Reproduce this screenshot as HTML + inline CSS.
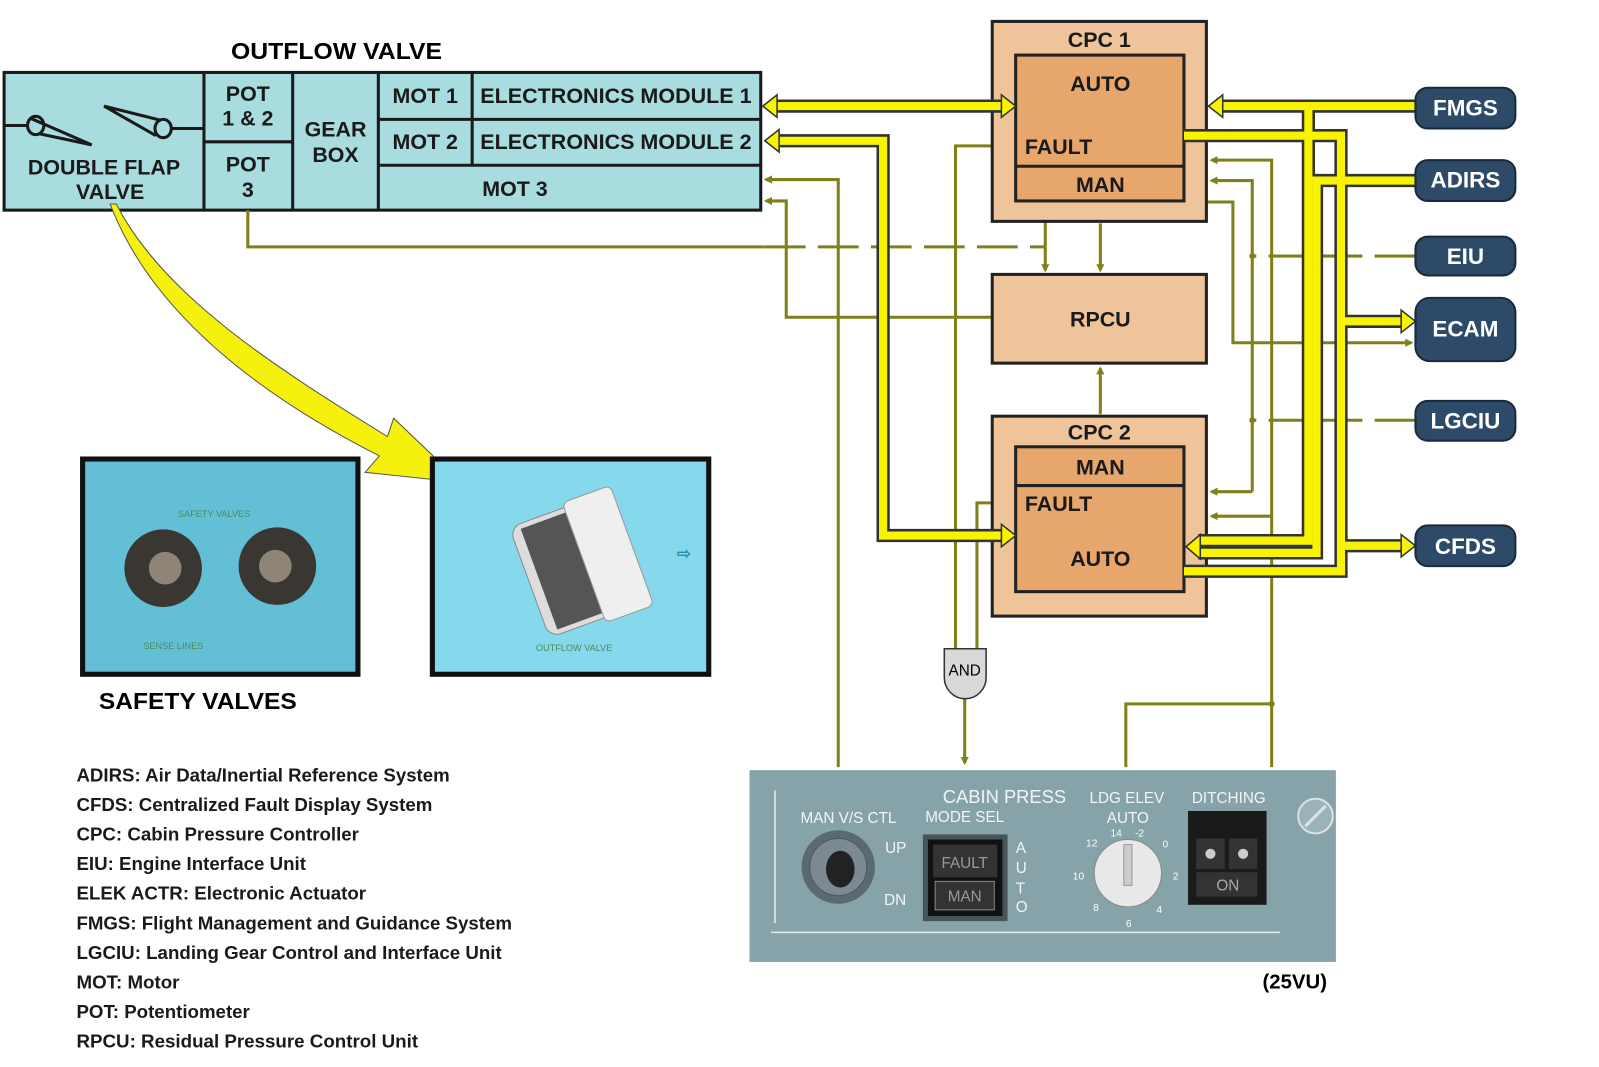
<!DOCTYPE html>
<html><head><meta charset="utf-8"><style>
html,body{margin:0;padding:0;background:#fff;width:1599px;height:1067px;overflow:hidden}
svg{display:block}
text{font-family:"Liberation Sans",Arial,sans-serif}
</style></head><body>
<svg width="1599" height="1067" viewBox="0 0 1568 1046" preserveAspectRatio="none">
<defs>
<marker id="oa" markerWidth="8" markerHeight="8" refX="6" refY="4" orient="auto" markerUnits="userSpaceOnUse"><path d="M0,0 L8,4 L0,8 Z" fill="#80801a"/></marker>
</defs>

<!-- Outflow valve -->
<text x="330" y="58" font-size="23" font-weight="bold" text-anchor="middle" textLength="207" lengthAdjust="spacingAndGlyphs">OUTFLOW VALVE</text>
<rect x="4" y="71" width="742" height="135" fill="#a8dcdf" stroke="#1a1a1a" stroke-width="3"/>
<g stroke="#1a1a1a" stroke-width="3">
<line x1="200" y1="71" x2="200" y2="206"/><line x1="287" y1="71" x2="287" y2="206"/>
<line x1="371" y1="71" x2="371" y2="206"/><line x1="463" y1="71" x2="463" y2="162"/>
<line x1="371" y1="117" x2="746" y2="117"/><line x1="371" y1="162" x2="746" y2="162"/>
<line x1="200" y1="139" x2="287" y2="139"/>
</g>
<g font-size="21" font-weight="bold" text-anchor="middle" fill="#1a1a1a">
<text x="243" y="99">POT</text><text x="243" y="123">1 &amp; 2</text>
<text x="243" y="168">POT</text><text x="243" y="193">3</text>
<text x="329" y="134">GEAR</text><text x="329" y="159">BOX</text>
<text x="417" y="101">MOT 1</text><text x="417" y="146">MOT 2</text>
<text x="604" y="101" textLength="266" lengthAdjust="spacingAndGlyphs">ELECTRONICS MODULE 1</text><text x="604" y="146" textLength="266" lengthAdjust="spacingAndGlyphs">ELECTRONICS MODULE 2</text>
<text x="505" y="192">MOT 3</text>
<text x="102" y="171">DOUBLE FLAP</text><text x="108" y="195">VALVE</text>
</g>
<g stroke="#1a1a1a" stroke-width="3" fill="none">
<line x1="5" y1="123" x2="28" y2="123"/>
<ellipse cx="35" cy="123" rx="8" ry="9"/>
<path d="M30,116 L90,142 M38,131 L90,142"/>
<line x1="168" y1="126" x2="199" y2="126"/>
<ellipse cx="160" cy="126" rx="8" ry="9"/>
<path d="M102,104 L158,118 M102,104 L153,133"/>
</g>

<!-- Big yellow arrow -->
<path d="M108,200 C150,310 260,390 372,447 L358,463 L452,473 L386,410 L380,428 C270,360 160,290 114,200 Z" fill="#f6f10c" stroke="#555" stroke-width="1"/>

<!-- photos -->
<rect x="81" y="450" width="270" height="211" fill="#62bfd6" stroke="#111" stroke-width="5"/>
<circle cx="160" cy="557" r="38" fill="#3a3632"/><circle cx="162" cy="557" r="16" fill="#8e8478"/>
<circle cx="272" cy="555" r="38" fill="#3a3632"/><circle cx="270" cy="555" r="16" fill="#8e8478"/>
<text x="210" y="507" font-size="9" fill="#4b8a5a" text-anchor="middle">SAFETY VALVES</text>
<text x="170" y="636" font-size="9" fill="#4b8a5a" text-anchor="middle">SENSE LINES</text>
<rect x="424" y="450" width="271" height="211" fill="#86d8ed" stroke="#111" stroke-width="5"/>
<g transform="rotate(-20 570 550)">
<rect x="515" y="495" width="100" height="115" rx="12" fill="#ddd" stroke="#888"/>
<rect x="525" y="500" width="50" height="105" fill="#555"/>
<rect x="572" y="490" width="50" height="125" rx="6" fill="#efefef" stroke="#999"/>
</g>
<text x="563" y="638" font-size="9" fill="#4b8a5a" text-anchor="middle">OUTFLOW VALVE</text>
<text x="664" y="548" font-size="16" fill="#2a8fb5" font-weight="bold">⇨</text>
<text x="97" y="695" font-size="23" font-weight="bold" textLength="194" lengthAdjust="spacingAndGlyphs">SAFETY VALVES</text>

<!-- legend -->
<g font-size="18" font-weight="bold" fill="#1a1a1a">
<text x="75" y="766" textLength="366" lengthAdjust="spacingAndGlyphs">ADIRS: Air Data/Inertial Reference System</text>
<text x="75" y="795" textLength="349" lengthAdjust="spacingAndGlyphs">CFDS: Centralized Fault Display System</text>
<text x="75" y="824" textLength="277" lengthAdjust="spacingAndGlyphs">CPC: Cabin Pressure Controller</text>
<text x="75" y="853" textLength="225" lengthAdjust="spacingAndGlyphs">EIU: Engine Interface Unit</text>
<text x="75" y="882" textLength="284" lengthAdjust="spacingAndGlyphs">ELEK ACTR: Electronic Actuator</text>
<text x="75" y="911" textLength="427" lengthAdjust="spacingAndGlyphs">FMGS: Flight Management and Guidance System</text>
<text x="75" y="940" textLength="417" lengthAdjust="spacingAndGlyphs">LGCIU: Landing Gear Control and Interface Unit</text>
<text x="75" y="969" textLength="101" lengthAdjust="spacingAndGlyphs">MOT: Motor</text>
<text x="75" y="998" textLength="170" lengthAdjust="spacingAndGlyphs">POT: Potentiometer</text>
<text x="75" y="1027" textLength="335" lengthAdjust="spacingAndGlyphs">RPCU: Residual Pressure Control Unit</text>
</g>

<!-- olive lines -->
<g stroke="#80801a" stroke-width="3" fill="none">
<path d="M243,206 V242 H750"/>
<path d="M750,242 H1025" stroke-dasharray="40,12"/>
<path d="M1025,242 V200" marker-end="url(#oa)"/>
<path d="M1025,242 V265" marker-end="url(#oa)"/>
<path d="M1079,219 V265" marker-end="url(#oa)"/>
<path d="M1079,406 V361" marker-end="url(#oa)"/>
<path d="M822,752 V176 H751" marker-end="url(#oa)"/>
<path d="M973,311 H771 V197 H751" marker-end="url(#oa)"/>
<path d="M996,143 H937 V640"/>
<path d="M996,493 H958 V640"/>
<path d="M946,685 V748" marker-end="url(#oa)"/>
<path d="M1388,251 H1228" stroke-dasharray="40,12"/>
<path d="M1388,412 H1228" stroke-dasharray="40,12"/>
<path d="M1228,482 V177 H1188" marker-end="url(#oa)"/>
<path d="M1228,482 H1188" marker-end="url(#oa)"/>
<path d="M1247,752 V157 H1188" marker-end="url(#oa)"/>
<path d="M1247,506 H1188" marker-end="url(#oa)"/>
<path d="M1104,752 V690 H1247"/>
<path d="M1183,198 H1209 V336 H1384" marker-end="url(#oa)"/>
</g>
<circle cx="1228" cy="251" r="3" fill="#80801a"/><circle cx="1228" cy="412" r="3" fill="#80801a"/><circle cx="1247" cy="690" r="3" fill="#80801a"/>

<!-- AND gate -->
<path d="M926,636 H967 V664 A20.5,21 0 0 1 926,664 Z" fill="#d9d9d9" stroke="#333" stroke-width="1.5"/>
<text x="946" y="662" font-size="15" text-anchor="middle">AND</text>

<!-- CPC boxes -->
<g stroke="#222" stroke-width="3">
<rect x="973" y="21" width="210" height="196" fill="#f0c49a"/>
<rect x="996" y="54" width="165" height="143" fill="#e6a66c"/>
<line x1="996" y1="163" x2="1161" y2="163"/>
<rect x="973" y="269" width="210" height="87" fill="#f0c49a"/>
<rect x="973" y="408" width="210" height="196" fill="#f0c49a"/>
<rect x="996" y="438" width="165" height="142" fill="#e6a66c"/>
<line x1="996" y1="476" x2="1161" y2="476"/>
</g>
<g font-size="21" font-weight="bold" fill="#1a1a1a">
<text x="1078" y="46" text-anchor="middle">CPC 1</text>
<text x="1079" y="89" text-anchor="middle">AUTO</text>
<text x="1005" y="151">FAULT</text>
<text x="1079" y="188" text-anchor="middle">MAN</text>
<text x="1079" y="320" text-anchor="middle">RPCU</text>
<text x="1078" y="431" text-anchor="middle">CPC 2</text>
<text x="1079" y="465" text-anchor="middle">MAN</text>
<text x="1005" y="501">FAULT</text>
<text x="1079" y="555" text-anchor="middle">AUTO</text>
</g>

<!-- yellow buses -->
<g fill="none" stroke-linejoin="miter">
<g stroke="#333" stroke-width="13">
<path d="M762,104 H982"/><path d="M762,138 H866 V525 H982"/>
<path d="M1388,104 H1197"/><path d="M1283,104 V530 H1175"/>
<path d="M1388,177 H1291 V542 H1175"/>
<path d="M1161,133 H1315 V560 H1161"/><path d="M1315,315 H1375"/><path d="M1315,535 H1375"/>
</g>
<g stroke="#f8f400" stroke-width="8">
<path d="M762,104 H982"/><path d="M762,138 H866 V525 H982"/>
<path d="M1388,104 H1197"/><path d="M1283,104 V530 H1175"/>
<path d="M1388,177 H1291 V542 H1175"/>
<path d="M1161,133 H1315 V560 H1161"/><path d="M1315,315 H1375"/><path d="M1315,535 H1375"/>
</g>
</g>
<g fill="#f8f400" stroke="#333" stroke-width="1.5">
<path d="M748,104 L762,93 V115 Z"/><path d="M996,104 L982,93 V115 Z"/>
<path d="M750,138 L764,127 V149 Z"/><path d="M996,525 L982,514 V536 Z"/>
<path d="M1185,104 L1199,93 V115 Z"/><path d="M1163,536 L1177,524 V548 Z"/>
<path d="M1388,315 L1374,304 V326 Z"/><path d="M1388,535 L1374,524 V546 Z"/>
</g>

<!-- right pills -->
<g fill="#2d4b68" stroke="#1a2a3a" stroke-width="2">
<rect x="1388" y="86" width="98" height="40" rx="12"/>
<rect x="1388" y="157" width="98" height="40" rx="12"/>
<rect x="1388" y="232" width="98" height="38" rx="12"/>
<rect x="1388" y="292" width="98" height="62" rx="14"/>
<rect x="1388" y="393" width="98" height="39" rx="12"/>
<rect x="1388" y="515" width="98" height="40" rx="12"/>
</g>
<g font-size="22" font-weight="bold" fill="#fff" text-anchor="middle">
<text x="1437" y="113">FMGS</text><text x="1437" y="184">ADIRS</text>
<text x="1437" y="259">EIU</text><text x="1437" y="330">ECAM</text>
<text x="1437" y="420">LGCIU</text><text x="1437" y="543">CFDS</text>
</g>

<!-- panel -->
<rect x="735" y="755" width="575" height="188" fill="#87a3aa"/>
<line x1="760" y1="775" x2="760" y2="905" stroke="#e8eef0" stroke-width="1.5"/>
<line x1="756" y1="914" x2="1255" y2="914" stroke="#e8eef0" stroke-width="1.5"/>
<g fill="#f2f5f6" font-size="15">
<text x="985" y="787" text-anchor="middle" font-size="18">CABIN PRESS</text>
<text x="832" y="807" text-anchor="middle">MAN V/S CTL</text>
<text x="946" y="806" text-anchor="middle">MODE SEL</text>
<text x="1105" y="787" text-anchor="middle">LDG ELEV</text>
<text x="1106" y="807" text-anchor="middle">AUTO</text>
<text x="1205" y="787" text-anchor="middle">DITCHING</text>
<text x="868" y="836">UP</text><text x="867" y="887">DN</text>
<text x="996" y="836">A</text><text x="996" y="856">U</text><text x="996" y="876">T</text><text x="996" y="894">O</text>
</g>
<circle cx="822" cy="850" r="36" fill="#5a6a70"/>
<circle cx="822" cy="850" r="28" fill="#7a8a90" stroke="#4a5a60"/>
<ellipse cx="824" cy="852" rx="14" ry="18" fill="#222"/>
<rect x="905" y="818" width="83" height="85" fill="#45555a"/>
<rect x="910" y="823" width="73" height="75" fill="#111"/>
<rect x="915" y="828" width="63" height="32" fill="#333"/>
<rect x="917" y="864" width="58" height="28" fill="#333" stroke="#888"/>
<text x="946" y="851" text-anchor="middle" font-size="15" fill="#999">FAULT</text>
<text x="946" y="884" text-anchor="middle" font-size="15" fill="#999">MAN</text>
<circle cx="1106" cy="856" r="33" fill="#e8e8e8" stroke="#888"/>
<rect x="1102" y="828" width="8" height="40" fill="#ccc" stroke="#999"/>
<g font-size="10" fill="#fff"><text x="1089" y="820">14</text><text x="1113" y="820">-2</text><text x="1065" y="830">12</text><text x="1140" y="831">0</text><text x="1052" y="862">10</text><text x="1150" y="862">2</text><text x="1072" y="893">8</text><text x="1134" y="895">4</text><text x="1104" y="909">6</text></g>
<rect x="1165" y="795" width="77" height="92" fill="#1a1a1a"/>
<rect x="1173" y="822" width="28" height="30" fill="#333"/><rect x="1205" y="822" width="28" height="30" fill="#333"/>
<circle cx="1187" cy="837" r="5" fill="#ccc"/><circle cx="1219" cy="837" r="5" fill="#ccc"/>
<rect x="1173" y="855" width="60" height="24" fill="#333"/>
<text x="1204" y="873" text-anchor="middle" font-size="15" fill="#aaa">ON</text>
<circle cx="1290" cy="800" r="17" fill="#9ab3b9" stroke="#d9e3e6" stroke-width="2"/>
<line x1="1280" y1="810" x2="1300" y2="790" stroke="#d9e3e6" stroke-width="3"/>
<text x="1238" y="969" font-size="20" font-weight="bold">(25VU)</text>
</svg>
</body></html>
